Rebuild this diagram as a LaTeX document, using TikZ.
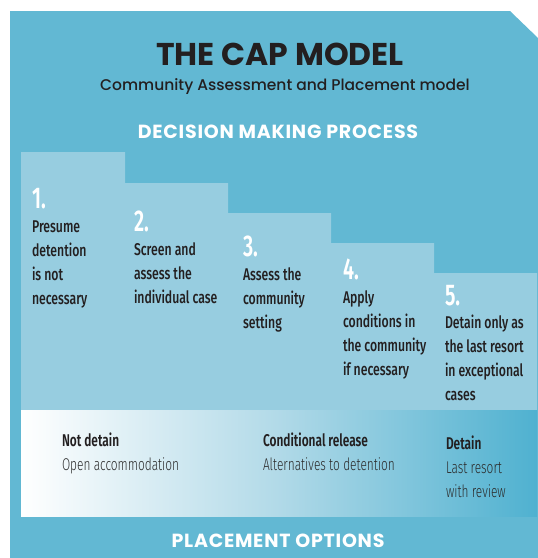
\documentclass[tikz,border=0pt]{standalone}
\usepackage{fontspec}
\setmainfont{Poppins}
\newfontfamily\titlefont{Poppins}[UprightFont=* Bold]
\newfontfamily\subfont{Poppins}[UprightFont=* Medium]
\newfontfamily\headfont{Poppins}[UprightFont=* Bold, LetterSpace=4]
\newfontfamily\condfont{Fira Sans}[FakeStretch=0.72, UprightFont=* Medium, BoldFont=* Bold]
\newfontfamily\condlight{Fira Sans}[FakeStretch=0.70, UprightFont=* Light]
\newfontfamily\condbold{Fira Sans}[FakeStretch=0.70, UprightFont=* SemiBold]
\newfontfamily\numfont{Fira Sans}[FakeStretch=0.66, UprightFont=* SemiBold]
\definecolor{teal}{HTML}{62B8D3}
\definecolor{stepc}{HTML}{97CDE0}
\definecolor{gradr}{HTML}{4FB1D0}
\definecolor{ink}{HTML}{231F20}
\definecolor{soft}{HTML}{2C2C2C}
\newcommand\stk[1]{\vtop{\baselineskip=24pt\lineskiplimit=-20pt\halign{##\hfil\cr#1\crcr}}}
\begin{document}
\begin{tikzpicture}[x=1pt,y=-1pt,
  lbl/.style={anchor=base west,inner sep=0pt,outer sep=0pt},
  num/.style={lbl,text=white,font=\numfont\fontsize{30}{30}\selectfont},
  stxt/.style={lbl,text=ink,font=\condfont\fontsize{17}{24}\selectfont},
  obold/.style={lbl,text=ink,font=\condbold\fontsize{17}{24}\selectfont},
  olight/.style={lbl,text=soft,font=\condlight\fontsize{17}{24}\selectfont},
  head/.style={anchor=base,inner sep=0pt,text=white,font=\headfont\fontsize{19}{20}\selectfont}]
\useasboundingbox (0,0) rectangle (538,558);
% background panel with cut corner
\fill[teal] (10,11) -- (510,11) -- (538,38) -- (538,558) -- (10,558) -- cycle;
% steps
\fill[stepc] (21,152) -- (125,152) -- (125,183) -- (228,183) -- (228,213) -- (331,213) -- (331,243) -- (434,243) -- (434,273) -- (537,273) -- (537,410) -- (21,410) -- cycle;
% placement gradient
\shade[left color=white, right color=gradr, middle color=stepc!75!white] (21,410) rectangle (537,516);
% titles
\node[anchor=base,inner sep=0pt,text=ink,font=\titlefont\fontsize{31.5}{32}\selectfont] (title) at (280,65) {THE CAP MODEL};
\node[anchor=base,inner sep=0pt,text=ink,font=\subfont\fontsize{15.5}{16}\selectfont] (sub) at (285,90) {Community Assessment and Placement model};
\node[head] (dmp) at (278,138) {DECISION MAKING PROCESS};
% step numbers
\node[num] (n1) at (32,208) {1.};
\node[num] (n2) at (134,231) {2.};
\node[num] (n3) at (243,256) {3.};
\node[num] (n4) at (343,279) {4.};
\node[num] (n5) at (445,305) {5.};
% step texts
\node[stxt] (t1) at (32,232) {\stk{Presume\cr detention\cr is not\cr necessary}};
\node[stxt] (t2) at (134,255) {\stk{Screen and\cr assess the\cr individual case}};
\node[stxt] (t3) at (243,280) {\stk{Assess the\cr community\cr setting}};
\node[stxt] (t4) at (343,303) {\stk{Apply\cr conditions in\cr the community\cr if necessary}};
\node[stxt] (t5) at (445,328) {\stk{Detain only as\cr the last resort\cr in exceptional\cr cases}};
% placement options
\node[obold] (p1) at (62,446) {Not detain};
\node[olight] (q1) at (62,470) {Open accommodation};
\node[obold] (p2) at (263,446) {Conditional release};
\node[olight] (q2) at (263,470) {Alternatives to detention};
\node[obold] (p3) at (446,449) {Detain};
\node[olight] (q3) at (446,473) {\stk{Last resort\cr with review}};
\node[head] (po) at (278,547) {PLACEMENT OPTIONS};
\end{tikzpicture}
\end{document}
